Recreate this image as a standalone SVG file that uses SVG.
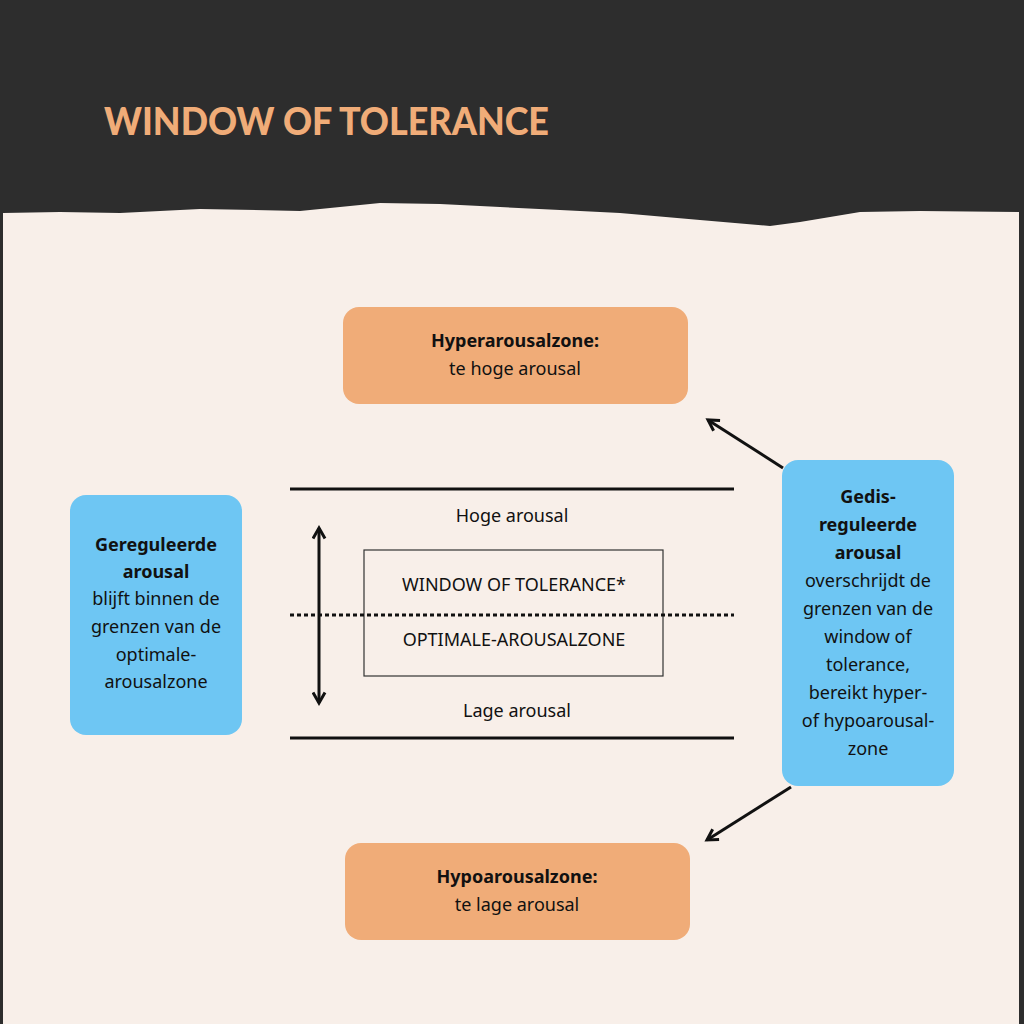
<svg xmlns="http://www.w3.org/2000/svg" width="1024" height="1024" viewBox="0 0 1024 1024">
<style>
.t{font-family:"Noto Sans","Open Sans",sans-serif;font-size:18px;fill:#111;text-anchor:middle}
.b{font-weight:bold}
.or{fill:#f0ac78}
.bl{fill:#6ec6f3}
.ln{stroke:#111;stroke-width:3;fill:none}
</style>
<defs>
<marker id="ah" viewBox="0 0 10 10" refX="8" refY="5" markerWidth="5" markerHeight="5" orient="auto-start-reverse"><path d="M1,1 L8,5 L1,9" fill="none" stroke="#111" stroke-width="2"/></marker>
</defs>
<rect width="1024" height="1024" fill="#2d2d2d"/>
<path d="M3,213 L60,212 L120,213 L200,209 L300,211 L360,205 L380,203 L440,204 L500,207 L560,210 L620,213 L700,220 L770,226 L800,222 L860,212 L920,211 L1019,212 L1019,1024 L3,1024 Z" fill="#f8efe9"/>
<text x="104" y="135" font-family="Lato,'Liberation Sans',sans-serif" font-weight="900" font-size="37" fill="#f0ac78" textLength="445" lengthAdjust="spacingAndGlyphs">WINDOW OF TOLERANCE</text>
<g id="hyper"><rect class="or" x="343" y="307" width="345" height="97" rx="16"/><text class="t b" x="515" y="347">Hyperarousalzone:</text><text class="t" x="515" y="375">te hoge arousal</text></g>
<g id="hypo"><rect class="or" x="345" y="843" width="345" height="97" rx="16"/><text class="t b" x="517" y="883">Hypoarousalzone:</text><text class="t" x="517" y="911">te lage arousal</text></g>
<g id="gereguleerd"><rect class="bl" x="70" y="495" width="172" height="240" rx="16"/>
<text class="t" x="156"><tspan class="b" x="156" y="551">Gereguleerde</tspan><tspan class="b" x="156" y="578">arousal</tspan><tspan x="156" y="605">blijft binnen de</tspan><tspan x="156" y="633">grenzen van de</tspan><tspan x="156" y="661">optimale-</tspan><tspan x="156" y="688">arousalzone</tspan></text></g>
<g id="gedisreguleerd"><rect class="bl" x="782" y="460" width="172" height="326" rx="16"/>
<text class="t" x="868"><tspan class="b" x="868" y="503">Gedis-</tspan><tspan class="b" x="868" y="531">reguleerde</tspan><tspan class="b" x="868" y="559">arousal</tspan><tspan x="868" y="587">overschrijdt de</tspan><tspan x="868" y="615">grenzen van de</tspan><tspan x="868" y="643">window of</tspan><tspan x="868" y="671">tolerance,</tspan><tspan x="868" y="699">bereikt hyper-</tspan><tspan x="868" y="727">of hypoarousal-</tspan><tspan x="868" y="755">zone</tspan></text></g>
<g id="window">
<line class="ln" x1="290" y1="489" x2="734" y2="489"/>
<line class="ln" x1="290" y1="738" x2="734" y2="738"/>
<text class="t" x="512" y="522">Hoge arousal</text>
<text class="t" x="517" y="717">Lage arousal</text>
<rect x="364" y="550" width="299" height="126" fill="none" stroke="#333" stroke-width="1.2"/>
<text class="t" x="514" y="591">WINDOW OF TOLERANCE*</text>
<text class="t" x="514" y="646">OPTIMALE-AROUSALZONE</text>
<line x1="290" y1="615" x2="734" y2="615" stroke="#111" stroke-width="3" stroke-dasharray="4,3"/>
</g>
<g id="connectors">
<line class="ln" x1="319" y1="528" x2="319" y2="703" marker-start="url(#ah)" marker-end="url(#ah)"/>
<line class="ln" x1="783" y1="468" x2="708" y2="420" marker-end="url(#ah)"/>
<line class="ln" x1="791" y1="787" x2="707" y2="840" marker-end="url(#ah)"/>
</g>
</svg>
